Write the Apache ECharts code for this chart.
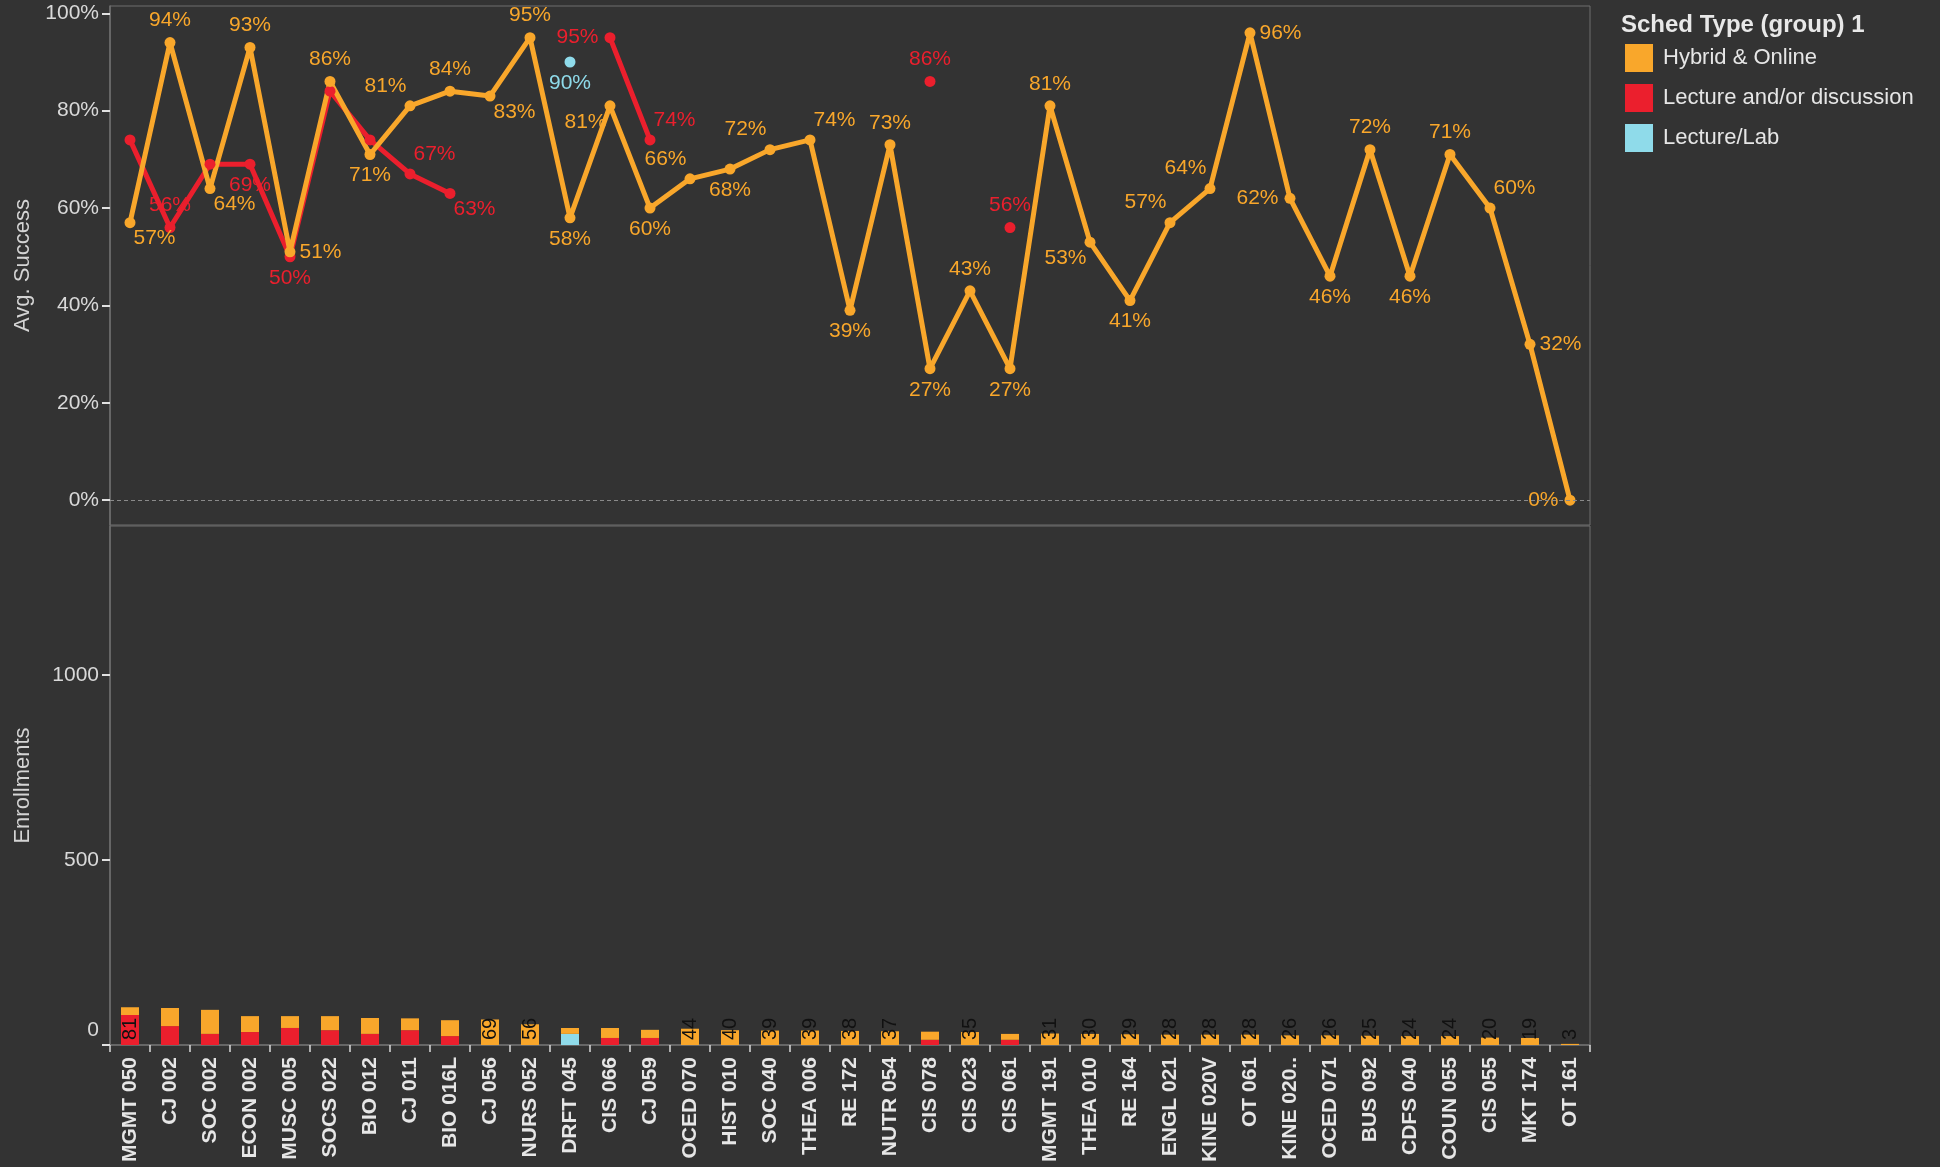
<!DOCTYPE html>
<html>
<head>
<meta charset="utf-8">
<title>Avg. Success and Enrollments</title>
<script src="https://cdn.jsdelivr.net/npm/echarts@6/dist/echarts.min.js"></script>
<style>
  html, body { margin: 0; padding: 0; background: #333333; }
  #chart1 { width: 1940px; height: 1167px; }
</style>
</head>
<body>
<div id="chart1"></div>
<script>
const categories = ['MGMT 050', 'CJ 002', 'SOC 002', 'ECON 002', 'MUSC 005', 'SOCS 022', 'BIO 012', 'CJ 011', 'BIO 016L',
  'CJ 056', 'NURS 052', 'DRFT 045', 'CIS 066', 'CJ 059', 'OCED 070', 'HIST 010', 'SOC 040', 'THEA 006', 'RE 172',
  'NUTR 054', 'CIS 078', 'CIS 023', 'CIS 061', 'MGMT 191', 'THEA 010', 'RE 164', 'ENGL 021', 'KINE 020V', 'OT 061',
  'KINE 020..', 'OCED 071', 'BUS 092', 'CDFS 040', 'COUN 055', 'CIS 055', 'MKT 174', 'OT 161'];

// Avg. Success (%)
const hybridSuccess = [57, 94, 64, 93, 51, 86, 71, 81, 84, 83, 95, 58, 81, 60, 66, 68, 72, 74, 39, 73, 27, 43, 27,
  81, 53, 41, 57, 64, 96, 62, 46, 72, 46, 71, 60, 32, 0];
const lectureSuccess = [74, 56, 69, 69, 50, 84, 74, 67, 63, null, null, null, 95, 74, null, null, null, null, null,
  null, 86, null, 56, null, null, null, null, null, null, null, null, null, null, null, null, null, null];
const labSuccess = [null, null, null, null, null, null, null, null, null, null, null, 90, null, null, null, null, null,
  null, null, null, null, null, null, null, null, null, null, null, null, null, null, null, null, null, null, null, null];

// Enrollments
const hybridEnroll = [21, 49, 65, 43, 32, 38, 43, 32, 43, 69, 56, 16, 27, 22, 44, 40, 39, 39, 38, 37, 22, 35, 16,
  31, 30, 29, 28, 28, 28, 26, 26, 25, 24, 24, 20, 19, 3];
const lectureEnroll = [81, 51, 30, 35, 46, 40, 30, 40, 24, null, null, null, 19, 19, null, null, null, null, null,
  null, 14, null, 14, null, null, null, null, null, null, null, null, null, null, null, null, null, null];
const labEnroll = [null, null, null, null, null, null, null, null, null, null, null, 30, null, null, null, null, null,
  null, null, null, null, null, null, null, null, null, null, null, null, null, null, null, null, null, null, null, null];

const successTicks = [0, 20, 40, 60, 80, 100];
const enrollTicks = [0, 500, 1000];

const ORANGE = '#f9a72b';
const RED = '#eb1f2d';
const BLUE = '#8fdbea';
const FONT = '"Liberation Sans", Arial, sans-serif';

// where each line label sits (t/b/l/r and corners)
const hybridLabelAt = ['br', 't', 'br', 't', 'r', 't', 'b', 'tl', 't', 'br', 't', 'b', 'bl', 'b', 'tl', 'b', 'tl', 'tr',
  'b', 't', 'b', 't', 'b', 't', 'bl', 'b', 'tl', 'tl', 'r', 'l', 'b', 't', 'b', 't', 'tr', 'r', 'l'];
const lectureLabelAt = { 1: 't', 3: 'b', 4: 'b', 7: 'tr', 8: 'br', 12: 'l', 13: 'tr', 20: 't', 22: 't' };
const labLabelAt = { 11: 'b' };
// which bar segments carry a number
const hybridBarLabels = [9, 10, 14, 15, 16, 17, 18, 19, 21, 23, 24, 25, 26, 27, 28, 29, 30, 31, 32, 33, 34, 35, 36];
const lectureBarLabels = [0];

function placement(p) {
  switch (p) {
    case 't': return { position: 'top', distance: 6 };
    case 'b': return { position: 'bottom', distance: 5 };
    case 'l': return { position: 'left', distance: 6 };
    case 'r': return { position: 'right', distance: 4 };
    case 'tl': return { position: 'left', distance: 2, offset: [4, -20] };
    case 'tr': return { position: 'right', distance: 2, offset: [-4, -20] };
    case 'bl': return { position: 'left', distance: 2, offset: [4, 16] };
    case 'br': return { position: 'right', distance: 2, offset: [-4, 16] };
  }
  return { show: false };
}

function lineData(values, where) {
  return values.map(function (v, i) {
    if (v === null) return null;
    const p = where[i];
    const label = p ? Object.assign({ show: true }, placement(p)) : { show: false };
    return { value: v, label: label };
  });
}

function barData(values, labelled) {
  return values.map(function (v, i) {
    if (v === null) return null;
    return { value: v, label: { show: labelled.indexOf(i) >= 0 } };
  });
}

const lineLabel = { fontSize: 21, fontFamily: FONT, formatter: '{c}%' };
const barLabel = {
  position: 'insideBottom', rotate: 90, align: 'left', verticalAlign: 'middle', distance: 5,
  color: '#111', fontSize: 20, fontFamily: FONT
};

const chart = echarts.init(document.getElementById('chart1'));

chart.setOption({
  backgroundColor: '#333333',
  animation: false,
  textStyle: { fontFamily: FONT },
  title: {
    text: 'Sched Type (group) 1',
    left: 1621, top: 13, padding: 0,
    textStyle: { color: '#e8e8e8', fontSize: 24, fontWeight: 'bold', fontFamily: FONT }
  },
  legend: {
    orient: 'vertical',
    left: 1625, top: 44, padding: 0,
    icon: 'rect',
    itemWidth: 28, itemHeight: 28, itemGap: 12,
    selectedMode: false,
    data: ['Hybrid & Online', 'Lecture and/or discussion', 'Lecture/Lab'],
    textStyle: { color: '#e6e6e6', fontSize: 22, fontFamily: FONT, padding: [0, 0, 0, 5] }
  },
  grid: [
    { left: 110, top: 6, width: 1480, height: 519, show: true, borderColor: '#6e6e6e', borderWidth: 1 },
    { left: 110, top: 526, width: 1480, height: 519, show: true, borderColor: '#6e6e6e', borderWidth: 1 }
  ],
  xAxis: [
    {
      gridIndex: 0, type: 'category', data: categories,
      axisLine: { show: false }, axisTick: { show: false }, axisLabel: { show: false }
    },
    {
      gridIndex: 1, type: 'category', data: categories,
      axisLine: { lineStyle: { color: '#6e6e6e', width: 1.5 } },
      axisTick: { show: true, length: 7, lineStyle: { color: '#dcdcdc', width: 1.5 } },
      axisLabel: {
        rotate: 90, interval: 0, margin: 12,
        color: '#e6e6e6', fontSize: 21, fontWeight: 'bold', fontFamily: FONT
      }
    }
  ],
  yAxis: [
    {
      gridIndex: 0, type: 'value', min: -5.1, max: 101.5,
      name: 'Avg. Success', nameLocation: 'middle', nameGap: 76,
      nameTextStyle: { color: '#d4d4d4', fontSize: 22, fontFamily: FONT },
      axisLine: { show: true, lineStyle: { color: '#6e6e6e', width: 1.5 } },
      axisTick: { show: true, length: 8, customValues: successTicks, lineStyle: { color: '#e0e0e0', width: 2 } },
      axisLabel: {
        customValues: successTicks, formatter: '{value}%', margin: 11,
        color: '#d9d9d9', fontSize: 21, fontFamily: FONT
      },
      splitLine: { show: false }
    },
    {
      gridIndex: 1, type: 'value', min: 0, max: 1402,
      name: 'Enrollments', nameLocation: 'middle', nameGap: 76,
      nameTextStyle: { color: '#d4d4d4', fontSize: 22, fontFamily: FONT },
      axisLine: { show: true, lineStyle: { color: '#6e6e6e', width: 1.5 } },
      axisTick: { show: true, length: 8, customValues: enrollTicks, lineStyle: { color: '#e0e0e0', width: 2 } },
      axisLabel: {
        customValues: enrollTicks, margin: 11,
        color: '#d9d9d9', fontSize: 21, fontFamily: FONT,
        formatter: function (v) { return v === 0 ? '{z|0}' : String(v); },
        rich: { z: { color: '#d9d9d9', fontSize: 21, fontFamily: FONT, padding: [0, 0, 30, 0] } }
      },
      splitLine: { show: false }
    }
  ],
  series: [
    {
      name: 'Lecture and/or discussion', type: 'bar', stack: 'enroll',
      xAxisIndex: 1, yAxisIndex: 1, barWidth: 18,
      itemStyle: { color: RED },
      label: barLabel,
      data: barData(lectureEnroll, lectureBarLabels)
    },
    {
      name: 'Lecture/Lab', type: 'bar', stack: 'enroll',
      xAxisIndex: 1, yAxisIndex: 1, barWidth: 18,
      itemStyle: { color: BLUE },
      label: barLabel,
      data: barData(labEnroll, [])
    },
    {
      name: 'Hybrid & Online', type: 'bar', stack: 'enroll',
      xAxisIndex: 1, yAxisIndex: 1, barWidth: 18,
      itemStyle: { color: ORANGE },
      label: barLabel,
      data: barData(hybridEnroll, hybridBarLabels)
    },
    {
      name: 'Lecture and/or discussion', type: 'line',
      xAxisIndex: 0, yAxisIndex: 0,
      symbol: 'circle', symbolSize: 11,
      connectNulls: false,
      lineStyle: { color: RED, width: 5 },
      itemStyle: { color: RED },
      label: Object.assign({ color: RED }, lineLabel),
      data: lineData(lectureSuccess, lectureLabelAt)
    },
    {
      name: 'Lecture/Lab', type: 'line',
      xAxisIndex: 0, yAxisIndex: 0,
      symbol: 'circle', symbolSize: 11,
      lineStyle: { color: BLUE, width: 5 },
      itemStyle: { color: BLUE },
      label: Object.assign({ color: BLUE }, lineLabel),
      data: lineData(labSuccess, labLabelAt)
    },
    {
      name: 'Hybrid & Online', type: 'line',
      xAxisIndex: 0, yAxisIndex: 0,
      symbol: 'circle', symbolSize: 11,
      lineStyle: { color: ORANGE, width: 5 },
      itemStyle: { color: ORANGE },
      label: Object.assign({ color: ORANGE }, lineLabel),
      data: lineData(hybridSuccess, hybridLabelAt),
      markLine: {
        silent: true,
        symbol: 'none',
        label: { show: false },
        lineStyle: { color: '#8a8a8a', type: [4, 3], width: 1 },
        data: [{ yAxis: 0 }]
      },
      z: 3
    }
  ]
});
</script>
</body>
</html>
